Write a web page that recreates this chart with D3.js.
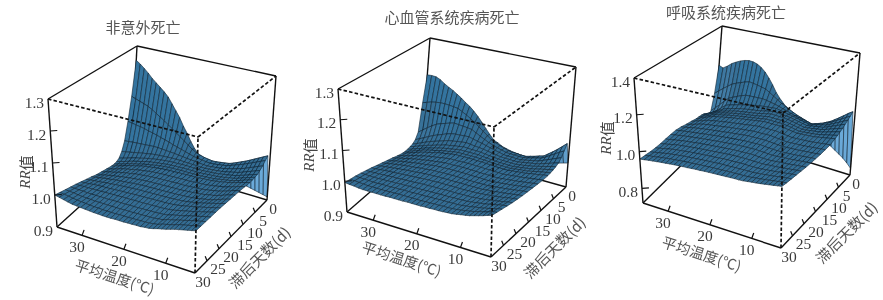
<!DOCTYPE html>
<html><head><meta charset="utf-8">
<script src="https://d3js.org/d3.v7.min.js"></script>
<style>html,body{margin:0;background:#fff}svg{display:block;filter:blur(0.35px)}</style></head>
<body><svg id="c" width="883" height="300"></svg>
<script>
const temps = d3.range(36, 2, -1);
const lags = [0,1,2,3,4,5,6,7,8,10,12,14,16,18,20,22,24,26,28,30];
const tempTicks = [30,20,10];
const lagTicks = [0,5,10,15,20,25,30];
const titles = ["非意外死亡","心血管系统疾病死亡","呼吸系统疾病死亡"];
const rrTicksA = [0.9,1.0,1.1,1.2,1.3];
const rrTicksB = [0.8,1.0,1.2,1.4];
// RR minus 1, in thousandths. Rows: lags; columns: temps
const rrAccident = [
[250,240,228,215,200,188,176,164,150,130,110,90,65,44,20,0,-15,-25,-32,-38,-42,-46,-50,-55,-59,-63,-67,-71,-75,-78,-81,-84,-87,-90],
[130,125,120,115,110,102,93,84,75,65,55,45,35,25,15,5,-3,-7,-11,-13,-15,-14,-12,-10,-8,-3,3,9,15,22,29,36,43,50],
[50,48,45,43,40,36,33,29,25,21,17,12,8,4,0,-4,-8,-10,-12,-14,-15,-14,-12,-10,-8,-3,2,7,12,18,24,30,36,42],
[-10,-9,-7,-6,-5,-4,-3,-2,-2,-3,-4,-5,-6,-8,-9,-11,-12,-13,-15,-16,-17,-15,-14,-12,-10,-6,-3,1,5,10,16,21,27,32],
[-40,-37,-34,-31,-28,-25,-23,-20,-18,-17,-16,-15,-14,-14,-14,-15,-15,-16,-16,-17,-17,-16,-15,-13,-12,-9,-6,-3,0,5,10,15,20,25],
[-55,-51,-47,-42,-38,-35,-31,-28,-25,-23,-21,-19,-18,-17,-17,-16,-16,-16,-17,-17,-17,-16,-15,-14,-12,-10,-8,-5,-3,2,6,11,15,20],
[-60,-55,-51,-46,-42,-38,-35,-31,-28,-26,-24,-22,-20,-19,-18,-18,-17,-17,-17,-17,-17,-16,-15,-14,-13,-11,-9,-6,-4,0,5,9,14,18],
[-61,-56,-52,-47,-43,-39,-36,-32,-29,-27,-24,-22,-20,-19,-18,-18,-17,-17,-17,-17,-17,-16,-15,-14,-13,-11,-8,-6,-4,0,4,9,13,17],
[-60,-55,-51,-46,-42,-38,-35,-31,-28,-26,-24,-22,-20,-19,-18,-18,-17,-17,-16,-16,-16,-15,-14,-13,-12,-10,-8,-5,-3,1,5,9,12,16],
[-55,-51,-47,-42,-38,-35,-32,-29,-26,-24,-22,-20,-19,-18,-17,-17,-16,-16,-15,-15,-15,-14,-13,-12,-11,-9,-7,-4,-2,2,6,10,14,18],
[-50,-46,-42,-39,-35,-32,-29,-27,-24,-22,-21,-19,-18,-17,-16,-16,-15,-15,-14,-14,-14,-13,-12,-11,-10,-8,-6,-3,-1,3,7,12,16,20],
[-45,-42,-38,-35,-32,-30,-27,-25,-23,-21,-20,-18,-17,-16,-16,-15,-15,-14,-14,-13,-13,-12,-11,-10,-9,-7,-5,-2,0,4,8,13,17,21],
[-38,-35,-33,-30,-28,-26,-24,-23,-21,-20,-18,-17,-16,-15,-15,-14,-14,-13,-13,-12,-12,-11,-10,-9,-8,-6,-4,-1,1,5,9,14,18,22],
[-32,-30,-28,-27,-25,-23,-22,-20,-19,-18,-17,-16,-15,-14,-14,-13,-13,-12,-12,-11,-11,-10,-9,-8,-6,-4,-1,2,5,8,12,15,19,23],
[-26,-25,-24,-22,-21,-20,-20,-19,-18,-17,-16,-16,-15,-14,-14,-13,-13,-12,-12,-11,-11,-10,-9,-7,-5,-2,1,4,7,10,13,17,20,24],
[-20,-20,-19,-19,-19,-18,-18,-17,-17,-16,-16,-15,-15,-15,-14,-14,-14,-13,-13,-12,-12,-11,-10,-8,-5,-2,1,4,7,11,14,17,21,24],
[-15,-15,-16,-16,-17,-17,-17,-17,-17,-17,-16,-16,-16,-16,-15,-15,-15,-14,-14,-13,-13,-12,-11,-9,-5,-2,1,4,8,11,14,18,21,24],
[-10,-11,-12,-14,-15,-16,-16,-17,-17,-17,-17,-17,-17,-17,-16,-16,-16,-15,-15,-14,-14,-13,-11,-10,-5,-2,1,5,8,12,15,18,21,24],
[-5,-7,-9,-11,-13,-14,-15,-16,-17,-17,-18,-18,-18,-18,-17,-17,-17,-16,-16,-15,-15,-14,-12,-10,-5,-2,1,5,9,12,15,18,21,24],
[0,-3,-6,-9,-12,-13,-14,-15,-16,-17,-17,-18,-18,-18,-17,-17,-17,-16,-16,-15,-15,-13,-12,-9,-5,-2,1,5,9,12,15,18,21,24]];
const rrCardio = [
[165,166,165,158,147,138,130,120,110,98,88,75,60,43,25,8,-8,-14,-22,-26,-30,-32,-34,-35,-36,-36,-36,-36,-35,-33,-30,-28,-24,-20],
[70,75,80,83,85,85,84,82,80,72,64,55,45,34,22,11,0,-6,-12,-17,-22,-23,-24,-25,-25,-21,-17,-12,-8,3,14,26,39,52],
[-30,-18,-6,5,15,21,26,31,35,33,32,30,28,20,12,5,-2,-7,-12,-16,-20,-21,-21,-22,-22,-19,-15,-11,-8,0,9,18,27,35],
[-50,-42,-34,-26,-18,-12,-6,0,5,7,8,9,10,6,2,-1,-5,-9,-13,-16,-20,-21,-21,-22,-22,-19,-16,-13,-10,-4,2,8,14,20],
[-58,-52,-45,-38,-32,-27,-22,-17,-12,-10,-7,-5,-3,-5,-7,-8,-10,-13,-15,-18,-20,-21,-21,-22,-22,-19,-17,-14,-12,-8,-3,1,6,10],
[-60,-55,-49,-44,-38,-34,-29,-25,-20,-18,-15,-13,-10,-11,-12,-12,-13,-15,-17,-18,-20,-21,-21,-22,-22,-20,-18,-15,-13,-9,-6,-2,2,5],
[-62,-57,-51,-46,-40,-36,-32,-28,-24,-21,-19,-16,-14,-14,-14,-14,-14,-16,-17,-19,-20,-21,-21,-22,-22,-20,-18,-16,-14,-11,-7,-4,-1,2],
[-62,-57,-51,-46,-40,-36,-32,-29,-25,-22,-20,-17,-15,-15,-15,-15,-15,-16,-17,-18,-19,-20,-20,-21,-21,-19,-17,-16,-14,-11,-8,-5,-3,0],
[-61,-56,-50,-45,-40,-36,-32,-29,-25,-22,-20,-17,-15,-15,-15,-15,-15,-16,-16,-17,-18,-19,-19,-20,-20,-18,-17,-15,-14,-11,-9,-7,-4,-2],
[-55,-50,-46,-41,-37,-34,-30,-27,-24,-22,-19,-17,-15,-15,-15,-14,-14,-14,-15,-15,-16,-16,-17,-17,-18,-16,-15,-13,-12,-10,-8,-6,-4,-2],
[-48,-44,-40,-37,-33,-30,-27,-25,-22,-20,-18,-16,-14,-14,-14,-13,-13,-13,-14,-14,-15,-15,-15,-16,-16,-14,-13,-11,-10,-8,-6,-4,-2,0],
[-42,-39,-35,-32,-29,-27,-24,-22,-20,-18,-16,-14,-13,-13,-12,-12,-12,-12,-12,-13,-13,-13,-14,-14,-14,-12,-11,-9,-8,-6,-4,-2,0,2],
[-36,-33,-30,-28,-25,-23,-21,-20,-18,-16,-15,-13,-12,-12,-11,-11,-11,-11,-11,-12,-12,-12,-12,-12,-12,-10,-9,-7,-6,-4,-2,0,2,4],
[-30,-28,-26,-24,-22,-20,-19,-17,-16,-15,-13,-12,-11,-11,-10,-10,-10,-10,-10,-10,-10,-10,-10,-10,-10,-8,-7,-5,-4,-2,0,2,4,6],
[-24,-23,-22,-20,-19,-18,-17,-16,-15,-14,-13,-12,-11,-10,-10,-9,-9,-9,-9,-9,-9,-9,-8,-8,-8,-6,-5,-3,-2,0,2,5,7,9],
[-19,-19,-18,-18,-17,-16,-15,-15,-14,-13,-13,-12,-11,-10,-10,-9,-9,-9,-8,-8,-8,-8,-7,-7,-7,-5,-4,-2,0,2,5,7,10,12],
[-14,-14,-15,-15,-15,-14,-14,-13,-13,-12,-12,-11,-11,-10,-10,-9,-9,-9,-8,-8,-8,-7,-7,-6,-6,-4,-2,0,2,5,8,11,14,16],
[-10,-11,-12,-12,-13,-13,-12,-12,-12,-11,-11,-10,-10,-10,-9,-9,-9,-8,-8,-7,-7,-7,-6,-6,-5,-3,-1,2,4,7,10,13,17,20],
[-7,-8,-9,-10,-11,-11,-11,-11,-11,-10,-10,-9,-9,-9,-9,-9,-9,-8,-8,-7,-7,-6,-6,-5,-4,-2,1,3,6,10,13,17,21,24],
[-4,-6,-7,-9,-10,-10,-10,-10,-10,-10,-9,-9,-9,-9,-8,-8,-8,-8,-7,-7,-6,-6,-5,-4,-3,-1,2,4,7,11,15,19,24,28]];
const rrResp = [
[150,140,158,180,195,208,217,222,220,212,197,175,145,110,70,40,15,-5,-25,-40,-52,-65,-75,-85,-95,-105,-120,-138,-155,-170,-185,-200,-220,-243],
[-15,8,30,50,70,82,92,102,110,106,102,96,90,76,60,45,30,18,7,-5,-15,-23,-31,-39,-47,-36,-23,-10,2,18,35,52,70,85],
[-110,-85,-58,-30,-5,8,20,31,40,42,43,44,45,41,36,31,25,17,10,2,-5,-10,-15,-20,-25,-18,-10,-3,5,18,32,45,59,72],
[-125,-105,-80,-57,-35,-26,-19,-11,-5,1,6,11,15,18,21,23,25,20,15,10,5,0,-5,-10,-15,-10,-5,0,5,16,28,39,51,62],
[-105,-90,-75,-60,-45,-37,-29,-22,-15,-11,-7,-3,0,5,10,15,20,18,15,13,10,5,0,-5,-10,-6,-2,1,5,14,24,33,43,52],
[-90,-79,-67,-56,-45,-38,-31,-24,-18,-14,-10,-6,-3,2,8,13,18,17,15,14,12,7,2,-3,-8,-5,-2,2,5,12,20,27,35,42],
[-85,-74,-63,-52,-42,-36,-30,-24,-18,-14,-10,-6,-3,1,6,10,15,14,13,13,12,7,3,-2,-6,-4,-1,2,4,10,16,23,29,35],
[-82,-71,-61,-50,-40,-34,-29,-23,-18,-14,-10,-6,-3,1,5,9,13,13,12,12,12,8,4,-1,-5,-3,-1,1,3,8,13,18,23,28],
[-80,-69,-59,-48,-38,-33,-28,-23,-18,-14,-10,-6,-3,1,5,8,12,12,11,11,11,7,3,0,-4,-2,-1,1,2,6,10,14,18,22],
[-70,-61,-52,-44,-35,-31,-26,-22,-18,-14,-11,-7,-4,-1,3,6,9,9,9,9,9,6,3,0,-3,-2,-1,0,1,3,6,8,11,13],
[-62,-55,-48,-40,-33,-29,-25,-22,-18,-15,-11,-8,-5,-2,1,3,6,6,6,7,7,4,2,-1,-3,-2,-1,0,1,3,5,7,9,11],
[-52,-47,-42,-37,-32,-28,-25,-21,-18,-15,-12,-9,-6,-4,-1,2,4,4,5,5,5,3,1,-1,-3,-2,-1,0,1,3,5,6,8,10],
[-46,-42,-38,-35,-31,-28,-25,-21,-18,-15,-12,-10,-7,-5,-2,0,2,3,3,4,4,2,0,-1,-3,-2,-1,0,1,3,5,7,9,11],
[-46,-42,-38,-34,-30,-27,-24,-21,-18,-15,-13,-10,-8,-6,-4,-2,0,1,2,2,3,1,0,-2,-3,-2,-1,1,2,4,6,8,10,12],
[-48,-44,-39,-35,-30,-27,-24,-21,-18,-16,-13,-11,-9,-7,-5,-3,-1,0,0,1,2,1,-1,-2,-3,-2,0,2,3,5,8,10,12,14],
[-50,-45,-40,-35,-30,-27,-24,-21,-18,-16,-14,-12,-10,-8,-6,-4,-2,-1,0,0,1,0,-1,-1,-2,0,2,3,5,7,10,12,15,17],
[-50,-45,-40,-35,-30,-27,-24,-21,-18,-16,-14,-12,-10,-8,-7,-5,-3,-2,-2,-1,0,0,-1,-1,-1,1,3,5,7,10,12,15,18,20],
[-48,-44,-39,-35,-30,-27,-24,-21,-18,-16,-14,-12,-10,-9,-7,-6,-4,-3,-3,-2,-1,-1,0,0,0,2,4,7,9,12,15,18,21,23],
[-44,-40,-37,-33,-29,-26,-23,-21,-18,-16,-14,-13,-11,-9,-8,-6,-5,-4,-3,-2,-1,-1,0,0,1,3,6,8,11,14,17,20,23,26],
[-41,-38,-34,-31,-28,-25,-23,-20,-18,-16,-14,-13,-11,-9,-8,-6,-5,-4,-3,-2,-1,0,1,1,2,5,8,10,13,16,20,23,27,30]];

const panels = [
 {data:rrAccident, title:titles[0], ticks:rrTicksA, fmt:".1f", dom:[0.9,1.3], titleXY:[143,26],
  A:[57,227],B:[195,273],C:[267,200],D:[131,160],A1:[48,99],B1:[198,137],C1:[276,76],D1:[137,46],
  tLab:[115,276], lLab:[259,257], rLab:[25,172]},
 {data:rrCardio, title:titles[1], ticks:rrTicksA, fmt:".1f", dom:[0.9,1.3], titleXY:[452,16],
  A:[347,212],B:[491,257],C:[566,187],D:[422,147],A1:[338,89],B1:[494,127],C1:[576,67],D1:[430,38],
  tLab:[402,258], lLab:[554,247], rLab:[309,155]},
 {data:rrResp, title:titles[2], ticks:rrTicksB, fmt:".1f", dom:[0.72,1.4], titleXY:[726,11],
  A:[643,203],B:[781,248],C:[850,175],D:[714,133],A1:[634,78],B1:[783,113],C1:[860,53],D1:[722,26],
  tLab:[702,253], lLab:[846,232], rLab:[606,138]}
];
const lagLabelDx = [6,8,12,14,12,11,8];

const svg = d3.select("#c");
const flat="#346d94", light="#6aa9d8", sheet="#34749f", mesh="#0f2433";
const lightK=d3.scaleLinear().domain([0.5,3]).range([0,1]).clamp(true);
const sheetK=d3.scaleLinear().domain([0.5,3]).range([0,1]).clamp(true);

panels.forEach(p=>{
  const g=svg.append("g");
  const u=d3.scaleLinear().domain([36,3]).range([0,1]);
  const v=d3.scaleLinear().domain([30,0]).range([0,1]);
  const w=d3.scaleLinear().domain(p.dom).range([0,1]);
  const mix=(a,b,t)=>[a[0]+(b[0]-a[0])*t,a[1]+(b[1]-a[1])*t];
  const proj=(T,L,R)=>{
    const uu=u(T),vv=v(L),ww=w(R);
    const fl=mix(mix(p.A,p.B,uu),mix(p.D,p.C,uu),vv);
    const tp=mix(mix(p.A1,p.B1,uu),mix(p.D1,p.C1,uu),vv);
    return mix(fl,tp,ww);
  };
  const line=(a,b,dash)=>g.append("line").attr("x1",a[0]).attr("y1",a[1]).attr("x2",b[0]).attr("y2",b[1])
     .attr("stroke","#111").attr("stroke-width",dash?1.7:1.4).attr("stroke-dasharray",dash?"3.5 2.2":null);
  [[p.A1,p.D1],[p.D1,p.C1],[p.D,p.D1],[p.A,p.D],[p.D,p.C]].forEach(s=>line(s[0],s[1]));
  const rr=(i,j)=>1+p.data[j][i]/1000;
  const path=d3.line();
  const quads=[];
  for(let i=0;i<temps.length-1;i++)for(let j=0;j<lags.length-1;j++)quads.push([i,j]);
  g.append("g").selectAll("path").data(quads).join("path")
   .attr("d",([i,j])=>path([proj(temps[i],lags[j],rr(i,j)),proj(temps[i+1],lags[j],rr(i+1,j)),
        proj(temps[i+1],lags[j+1],rr(i+1,j+1)),proj(temps[i],lags[j+1],rr(i,j+1))])+"Z")
   .attr("fill",([i,j])=>{
      const gU=((w(rr(i+1,j))-w(rr(i,j)))+(w(rr(i+1,j+1))-w(rr(i,j+1))))/2/(u(temps[i+1])-u(temps[i]));
      const gV=((w(rr(i,j))-w(rr(i,j+1)))+(w(rr(i+1,j))-w(rr(i+1,j+1))))/2/(v(lags[j])-v(lags[j+1]));
      const l=Math.max(lightK(-gV/2),lightK(gU));
      if(l>0) return d3.interpolateRgb(flat,light)(l);
      return d3.interpolateRgb(flat,sheet)(sheetK(gV));
   })
   .attr("stroke",mesh).attr("stroke-width",0.7).attr("stroke-opacity",0.85).attr("stroke-linejoin","round");
  [[p.A,p.A1],[p.A,p.B],[p.B,p.C],[p.C,p.C1]].forEach(s=>line(s[0],s[1]));
  [[p.A1,p.B1],[p.B1,p.C1],[p.B,p.B1]].forEach(s=>line(s[0],s[1],true));

  const txt=(x,y,s,o={})=>g.append("text").attr("x",x).attr("y",y).attr("text-anchor",o.anchor||"middle")
     .attr("dominant-baseline","central").attr("font-family",o.font||"'Liberation Serif'")
     .attr("font-size",o.size||15.5).attr("fill",o.fill||"#3a3a3a").text(s);
  p.ticks.forEach(t=>{
    const q=proj(36,30,t);
    if(t>p.dom[0]&&t<p.dom[1]) g.append("line").attr("x1",q[0]).attr("y1",q[1]).attr("x2",q[0]+7).attr("y2",q[1]-0.5).attr("stroke","#111").attr("stroke-width",1.2);
    txt(q[0]-4,q[1]+3,d3.format(p.fmt)(t),{anchor:"end"});
  });
  tempTicks.forEach(t=>{
    const q=proj(t,30,p.dom[0]);
    g.append("line").attr("x1",q[0]).attr("y1",q[1]).attr("x2",q[0]+2).attr("y2",q[1]-5.5).attr("stroke","#111").attr("stroke-width",1.2);
    txt(q[0]-5,q[1]+11,t);
  });
  lagTicks.forEach((t,k)=>{
    const q=proj(3,t,p.dom[0]);
    if(t>0&&t<30) g.append("line").attr("x1",q[0]).attr("y1",q[1]).attr("x2",q[0]-1.8).attr("y2",q[1]-4.5).attr("stroke","#111").attr("stroke-width",1.2);
    txt(q[0]+lagLabelDx[k],q[1]+8,t);
  });
  const cjk="'Noto Sans CJK SC'";
  txt(p.titleXY[0],p.titleXY[1],p.title,{font:cjk,size:15,fill:"#555"});
  txt(p.tLab[0],p.tLab[1],"平均温度(℃)",{font:cjk,size:14.5,fill:"#555"}).attr("transform",`rotate(18 ${p.tLab[0]} ${p.tLab[1]})`);
  txt(p.lLab[0],p.lLab[1],"滞后天数(d)",{font:cjk,size:15,fill:"#555"}).attr("transform",`rotate(-45 ${p.lLab[0]} ${p.lLab[1]})`);
  const rt=txt(p.rLab[0],p.rLab[1],"",{font:cjk,size:15,fill:"#444"}).attr("transform",`rotate(-90 ${p.rLab[0]} ${p.rLab[1]})`);
  rt.append("tspan").attr("font-family","'Liberation Serif'").attr("font-style","italic").text("RR");
  rt.append("tspan").text("值");
});
</script></body></html>
